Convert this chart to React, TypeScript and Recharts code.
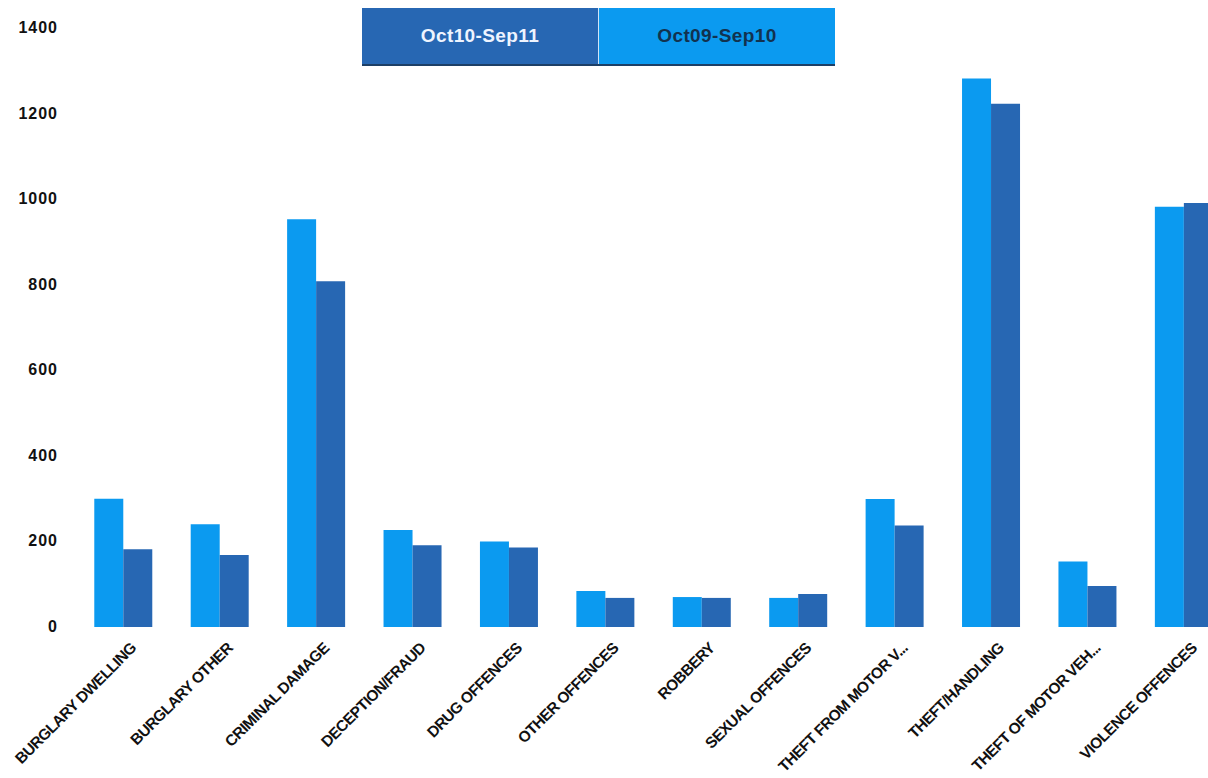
import React from "react";
import { BarChart, Bar, XAxis, YAxis } from "recharts";

const categories = [
  "BURGLARY DWELLING",
  "BURGLARY OTHER",
  "CRIMINAL DAMAGE",
  "DECEPTION/FRAUD",
  "DRUG OFFENCES",
  "OTHER OFFENCES",
  "ROBBERY",
  "SEXUAL OFFENCES",
  "THEFT FROM MOTOR V...",
  "THEFT/HANDLING",
  "THEFT OF MOTOR VEH...",
  "VIOLENCE OFFENCES",
];
const oct09Sep10 = [300, 240, 953, 227, 200, 84, 70, 68, 299, 1282, 153, 982];
const oct10Sep11 = [182, 168, 808, 191, 186, 68, 68, 77, 237, 1223, 96, 991];
const yTicks = [0, 200, 400, 600, 800, 1000, 1200, 1400];

const LIGHT = "#0B9AF0";
const DARK = "#2767B3";

const seriesA = { key: "oct09", name: "Oct09-Sep10", color: LIGHT, text: "#12324F" };
const seriesB = { key: "oct10", name: "Oct10-Sep11", color: DARK, text: "#EEF4FF" };
const legendOrder = [seriesB, seriesA];

const data = categories.map((c, i) => ({
  name: c,
  oct09: oct09Sep10[i],
  oct10: oct10Sep11[i],
}));

const FONT = "'Liberation Sans', Arial, sans-serif";

const XTick = (props: any) => {
  const { x, y, payload } = props;
  return (
    <g transform={`translate(${x + 14},${y + 22})`}>
      <text
        textAnchor="end"
        transform="rotate(-45)"
        fontSize={15.5}
        fontWeight="bold"
        fontFamily={FONT}
        fill="#111"
        letterSpacing={-0.6}
      >
        {payload.value}
      </text>
    </g>
  );
};

const YTick = (props: any) => {
  const { x, y, payload } = props;
  return (
    <text
      x={x - 17}
      y={y}
      dy={5}
      textAnchor="end"
      fontSize={16}
      fontWeight="bold"
      fontFamily={FONT}
      fill="#111"
      letterSpacing={1}
    >
      {payload.value}
    </text>
  );
};

export default function App() {
  return (
    <div
      style={{
        position: "absolute",
        left: 0,
        top: 0,
        width: 1208,
        height: 778,
        overflow: "hidden",
        background: "#fff",
      }}
    >
      <BarChart
        width={1232}
        height={778}
        data={data}
        margin={{ top: 28, right: 0, left: 0, bottom: 0 }}
        barCategoryGap="20%"
        barGap={0}
      >
        <XAxis
          dataKey="name"
          interval={0}
          height={151}
          axisLine={false}
          tickLine={false}
          tickSize={0}
          tickMargin={0}
          tick={<XTick />}
        />
        <YAxis
          width={75}
          domain={[0, 1400]}
          ticks={yTicks}
          axisLine={false}
          tickLine={false}
          tickSize={0}
          tickMargin={0}
          tick={<YTick />}
        />
        <Bar dataKey={seriesA.key} name={seriesA.name} fill={seriesA.color} isAnimationActive={false} />
        <Bar dataKey={seriesB.key} name={seriesB.name} fill={seriesB.color} isAnimationActive={false} />
      </BarChart>
      <div
        style={{
          position: "absolute",
          left: 362,
          top: 8,
          width: 473,
          height: 58,
          display: "flex",
          boxSizing: "border-box",
          borderBottom: "2px solid #1d3f66",
        }}
      >
        {legendOrder.map((s, i) => (
          <div
            key={s.key}
            style={{
              flex: 1,
              background: s.color,
              color: s.text,
              display: "flex",
              alignItems: "center",
              justifyContent: "center",
              fontFamily: FONT,
              fontWeight: "bold",
              fontSize: 19,
              letterSpacing: 0.4,
              borderLeft: i > 0 ? "1px solid #cfe3f7" : "none",
            }}
          >
            {s.name}
          </div>
        ))}
      </div>
    </div>
  );
}
